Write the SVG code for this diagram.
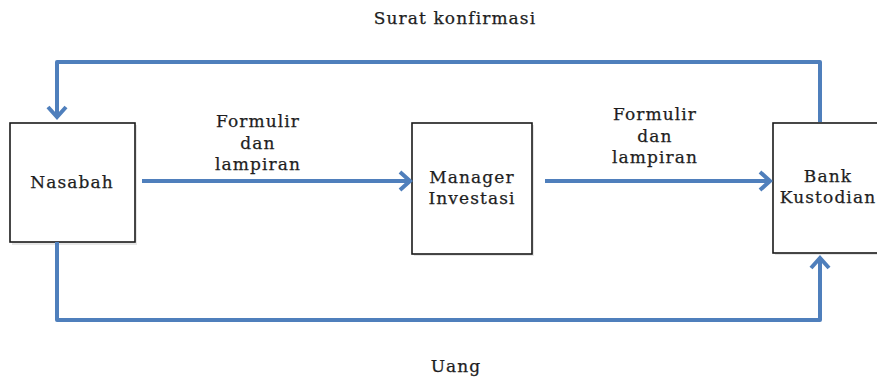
<svg xmlns="http://www.w3.org/2000/svg" width="877" height="380" viewBox="0 0 877 380">
<style>
.box{fill:#fff;stroke:#1a1a1a;stroke-width:1.6}
.shadow{fill:#e6e6e6;stroke:none}
.conn{fill:none;stroke:#4f7fbc;stroke-width:4;stroke-linejoin:round}
text{font-family:"DejaVu Serif","Liberation Serif",serif;font-size:17px;fill:#1e1e1e;stroke:#1e1e1e;stroke-width:0.25;letter-spacing:1.1px;text-anchor:middle}
</style>
<defs>
<marker id="arr" markerUnits="userSpaceOnUse" markerWidth="24" markerHeight="24" viewBox="-14 -12 16 24" refX="0" refY="0" orient="auto">
<path d="M -10 -9 L 0 0 L -10 9" fill="none" stroke="#4f7fbc" stroke-width="4" stroke-linejoin="miter"/>
</marker>
</defs>
<rect width="877" height="380" fill="#fff"/>
<g id="nasabah">
<rect class="shadow" x="12" y="125" width="125" height="120"/>
<rect class="box" x="10" y="123" width="125" height="119"/>
<text x="72" y="188">Nasabah</text>
</g>
<g id="manager">
<rect class="shadow" x="414" y="125" width="120" height="131"/>
<rect class="box" x="412" y="123" width="120" height="131"/>
<text x="472" y="183">Manager</text>
<text x="472" y="204">Investasi</text>
</g>
<g id="bank">
<rect class="shadow" x="775" y="125" width="110" height="130"/>
<rect class="box" x="773" y="123" width="110" height="130"/>
<text x="828" y="182">Bank</text>
<text x="828" y="203">Kustodian</text>
</g>
<g id="connectors">
<path class="conn" d="M 820 122 V 62 H 57 V 117" marker-end="url(#arr)"/>
<path class="conn" d="M 57 242 V 320 H 820 V 258" marker-end="url(#arr)"/>
<path class="conn" d="M 142 181 H 410" marker-end="url(#arr)"/>
<path class="conn" d="M 545 181 H 770" marker-end="url(#arr)"/>
</g>
<g id="labels">
<text x="455" y="24">Surat konfirmasi</text>
<text x="258" y="127">Formulir</text>
<text x="258" y="149">dan</text>
<text x="258" y="170">lampiran</text>
<text x="655" y="120">Formulir</text>
<text x="655" y="142">dan</text>
<text x="655" y="163">lampiran</text>
<text x="456" y="372">Uang</text>
</g>
</svg>
